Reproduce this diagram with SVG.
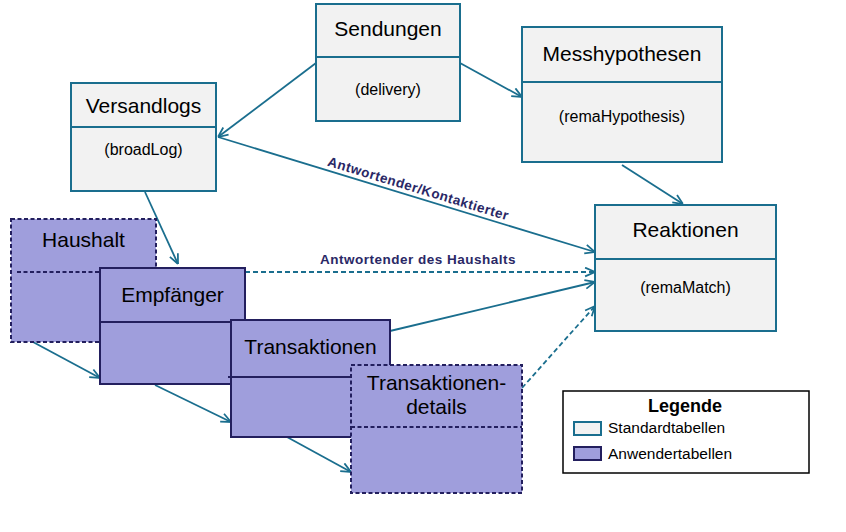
<svg xmlns="http://www.w3.org/2000/svg" width="846" height="532" viewBox="0 0 846 532">
<style>
.std{fill:#f2f2f2;stroke:#1a6e8e;stroke-width:2}
.usr{fill:#9f9edc;stroke:#231f5e;stroke-width:2}
.dash{stroke-dasharray:4 2.5}
.div-s{stroke:#1a6e8e;stroke-width:2}
.div-u{stroke:#231f5e;stroke-width:2}
.t{font-family:"Liberation Sans",Arial,sans-serif;font-size:21px;fill:#000;text-anchor:middle}
.s{font-family:"Liberation Sans",Arial,sans-serif;font-size:16px;fill:#000;text-anchor:middle}
.c{fill:none;stroke:#1a6e8e;stroke-width:1.8;marker-end:url(#arr)}
.cd{stroke-dasharray:5 3}
.lbl{font-family:"Liberation Sans",Arial,sans-serif;font-size:13.5px;font-weight:bold;fill:#2a2866;text-anchor:middle;letter-spacing:0.5px}
.lg{font-family:"Liberation Sans",Arial,sans-serif;font-size:15.5px;fill:#000}
</style>
<defs>
<marker id="arr" viewBox="0 0 10 10" refX="10" refY="5" markerWidth="11" markerHeight="11" markerUnits="userSpaceOnUse" orient="auto">
<path d="M1,1 L10,5 L1,9" fill="none" stroke="#1a6e8e" stroke-width="1.6"/>
</marker>
</defs>
<rect width="846" height="532" fill="#fff"/>

<g id="connectors">
<line class="c" x1="316" y1="63" x2="218" y2="137"/>
<line class="c" x1="460" y1="63" x2="522" y2="97"/>
<line class="c" x1="218" y1="137" x2="595" y2="252"/>
<line class="c" x1="622" y1="165" x2="683" y2="204"/>
<line class="c" x1="145" y1="192" x2="178" y2="264"/>
<line class="c cd" x1="245" y1="272" x2="595" y2="272"/>
<line class="c" x1="390" y1="331" x2="595" y2="282"/>
<line class="c cd" x1="522" y1="388" x2="595" y2="306"/>
<line class="c" x1="33" y1="342" x2="100" y2="378"/>
<line class="c" x1="155" y1="385" x2="231" y2="422"/>
<line class="c" x1="287" y1="437" x2="351" y2="472"/>
<text class="lbl" x="417" y="193" transform="rotate(16.9 417 193)">Antwortender/Kontaktierter</text>
<text class="lbl" x="418" y="264">Antwortender des Haushalts</text>
</g>

<g id="node-sendungen">
<rect class="std" x="316" y="4" width="144" height="117"/>
<line class="div-s" x1="316" y1="57" x2="460" y2="57"/>
<text class="t" x="388" y="36">Sendungen</text>
<text class="s" x="388" y="95">(delivery)</text>
</g>

<g id="node-versandlogs">
<rect class="std" x="71" y="83" width="145" height="108"/>
<line class="div-s" x1="71" y1="127" x2="216" y2="127"/>
<text class="t" x="143.5" y="113">Versandlogs</text>
<text class="s" x="143.5" y="155">(broadLog)</text>
</g>

<g id="node-messhypothesen">
<rect class="std" x="522" y="27" width="200" height="135"/>
<line class="div-s" x1="522" y1="82" x2="723" y2="82"/>
<text class="t" x="622" y="61">Messhypothesen</text>
<text class="s" x="622" y="122">(remaHypothesis)</text>
</g>

<g id="node-reaktionen">
<rect class="std" x="595" y="205" width="181" height="126"/>
<line class="div-s" x1="595" y1="259" x2="776" y2="259"/>
<text class="t" x="685.5" y="237">Reaktionen</text>
<text class="s" x="685.5" y="293">(remaMatch)</text>
</g>

<g id="node-haushalt">
<rect class="usr dash" x="11" y="219" width="145" height="123"/>
<line class="div-u dash" x1="17" y1="272" x2="156" y2="272"/>
<text class="t" x="83.5" y="247">Haushalt</text>
</g>

<g id="node-empfaenger">
<rect class="usr" x="100" y="268" width="145" height="116"/>
<line class="div-u" x1="101" y1="322" x2="245" y2="322"/>
<text class="t" x="172.5" y="302">Empfänger</text>
</g>

<g id="node-transaktionen">
<rect class="usr" x="231" y="320" width="159" height="117"/>
<line class="div-u" x1="228" y1="377" x2="390" y2="377"/>
<text class="t" x="310.5" y="354">Transaktionen</text>
</g>

<g id="node-transaktionendetails">
<rect class="usr dash" x="351" y="365" width="171" height="128"/>
<line class="div-u dash" x1="351" y1="427" x2="522" y2="427"/>
<text class="t" x="436.5" y="390">Transaktionen-</text>
<text class="t" x="436.5" y="414">details</text>
</g>

<g id="legend">
<rect x="563" y="391" width="246" height="82" fill="#fff" stroke="#000" stroke-width="1.5"/>
<text x="685" y="412" font-family="Liberation Sans,Arial,sans-serif" font-size="18" font-weight="bold" text-anchor="middle" fill="#000">Legende</text>
<rect class="std" x="574" y="422" width="27" height="13"/>
<text class="lg" x="608" y="433">Standardtabellen</text>
<rect class="usr" x="574" y="447" width="27" height="13"/>
<text class="lg" x="608" y="459">Anwendertabellen</text>
</g>
</svg>
